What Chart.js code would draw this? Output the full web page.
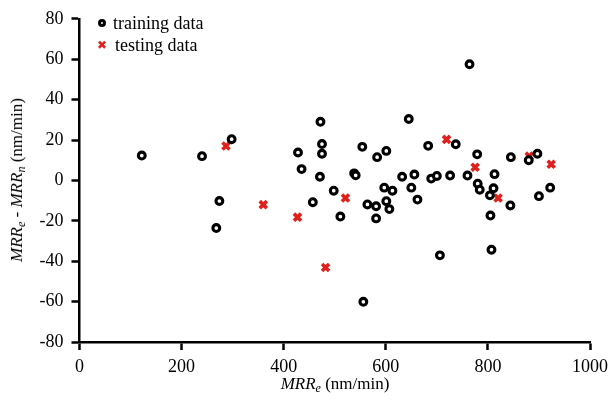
<!DOCTYPE html>
<html lang="en">
<head>
    <meta charset="UTF-8">
    <title>MRR residuals</title>
    <script src="https://cdn.jsdelivr.net/npm/chart.js"></script>
    <style>
        body {
            margin: 0;
            background: #fff;
        }
        .wrap {
            position: relative;
            width: 608px;
            height: 400px;
            font-family: "Liberation Serif", "Times New Roman", serif;
        }
        .ytitle {
            position: absolute;
            left: 18px;
            top: 180px;
            transform: translate(-50%, -50%) rotate(-90deg);
            white-space: nowrap;
            font-size: 17px;
        }
        .xtitle {
            position: absolute;
            left: 335px;
            top: 385px;
            transform: translate(-50%, -50%);
            white-space: nowrap;
            font-size: 17px;
        }
        sub {
            font-size: 12px;
            vertical-align: -3px;
        }
        .legend {
            position: absolute;
            left: 97px;
            top: 12px;
            font-size: 18px;
            line-height: 22px;
        }
        .legend div {
            display: flex;
            align-items: center;
        }
        .dot {
            display: inline-block;
            width: 2px;
            height: 2px;
            border: 3.3px solid #000;
            border-radius: 50%;
            margin: 0 7px 0 1px;
        }
        .cross {
            display: inline-block;
            width: 12px;
            color: #e0201c;
            font-family: "DejaVu Sans", sans-serif;
            font-size: 12px;
            margin-right: 6px;
        }
    </style>
</head>
<body>
    <div class="wrap">
        <canvas id="chart" width="608" height="400"></canvas>
        <div class="ytitle"><i>MRR<sub>e</sub></i> - <i>MRR<sub>n</sub></i> (nm/min)</div>
        <div class="xtitle"><i>MRR<sub>e</sub></i> (nm/min)</div>
        <div class="legend">
            <div><span class="dot"></span>training data</div>
            <div><span class="cross">&#10006;</span>testing data</div>
        </div>
    </div>

    <script>
        // training data (MRRe, MRRe - MRRn)
        const trainX = [122, 240, 298, 274, 268, 472, 475, 475, 428, 435, 471, 554, 538, 541, 498, 457, 511, 564,
                        645, 683, 737, 779, 601, 583, 632, 656, 689, 700, 726, 760, 780, 784, 804, 597, 613, 650,
                        601, 581, 607, 662, 581, 805, 845, 897, 880, 813, 811, 922, 900, 844, 764, 706, 807, 556];
        const trainY = [12.3, 12, 20.4, -10.2, -23.6, 29, 18, 13.2, 13.8, 5.6, 1.8, 16.6, 3.5, 2.5, -5.1, -10.8, -17.9, -11.9,
                        30.4, 17.1, 17.9, 12.9, 14.6, 11.5, 1.8, 2.9, 0.9, 2.2, 2.4, 2.4, -1.6, -4.6, -7.4, -3.6, -5.1, -3.6,
                        -10.3, -12.8, -14.2, -9.5, -18.8, -17.4, 11.5, 13.2, 10, 3.1, -3.9, -3.6, -7.8, -12.4, 57.5, -37.1, -34.3, -60.1];

        // testing data
        const testX = [287, 360, 427, 482, 521, 719, 775, 820, 881, 924];
        const testY = [17, -12, -18.2, -43.1, -8.7, 20.3, 6.5, -8.7, 12, 8];

        const xTicks = [0, 200, 400, 600, 800, 1000];
        const yTicks = [-80, -60, -40, -20, 0, 20, 40, 60, 80];

        const toPoints = (xs, ys) => xs.map((x, i) => ({ x: x, y: ys[i] }));

        const axisStyle = {
            border: { display: true, color: '#000', width: 2.5 },
            grid: {
                display: true,
                drawOnChartArea: false,
                drawTicks: true,
                tickLength: 8,
                tickWidth: 2.5,
                tickColor: '#000'
            }
        };

        new Chart(document.getElementById('chart'), {
            type: 'scatter',
            data: {
                datasets: [
                    {
                        label: 'training data',
                        data: toPoints(trainX, trainY),
                        pointStyle: 'circle',
                        pointRadius: 3.4,
                        borderWidth: 3.1,
                        borderColor: '#000',
                        backgroundColor: '#fff'
                    },
                    {
                        label: 'testing data',
                        data: toPoints(testX, testY),
                        pointStyle: 'crossRot',
                        pointRadius: 5,
                        borderWidth: 3.6,
                        borderColor: '#e0201c',
                        backgroundColor: '#e0201c'
                    }
                ]
            },
            options: {
                responsive: false,
                animation: false,
                layout: { padding: { top: 17, right: 18, bottom: 0, left: 0 } },
                plugins: {
                    legend: { display: false },
                    tooltip: { enabled: false }
                },
                scales: {
                    x: {
                        ...axisStyle,
                        min: 0,
                        max: 1000,
                        afterBuildTicks: (s) => { s.ticks = xTicks.map(v => ({ value: v })); },
                        afterFit: (s) => {
                            s.height = 58;
                            // let the last label hang into the right margin
                            s.paddingRight = 0;
                            s.paddingLeft = 0;
                        },
                        ticks: {
                            color: '#000',
                            padding: 6,
                            maxRotation: 0,
                            callback: (v) => String(v),
                            font: { family: 'Liberation Serif', size: 18 }
                        }
                    },
                    y: {
                        ...axisStyle,
                        min: -80,
                        max: 80,
                        afterBuildTicks: (s) => { s.ticks = yTicks.map(v => ({ value: v })); },
                        afterFit: (s) => { s.width = 79.5; },
                        ticks: {
                            color: '#000',
                            padding: 8,
                            callback: (v) => String(v),
                            font: { family: 'Liberation Serif', size: 18 }
                        }
                    }
                }
            }
        });
    </script>
</body>
</html>
